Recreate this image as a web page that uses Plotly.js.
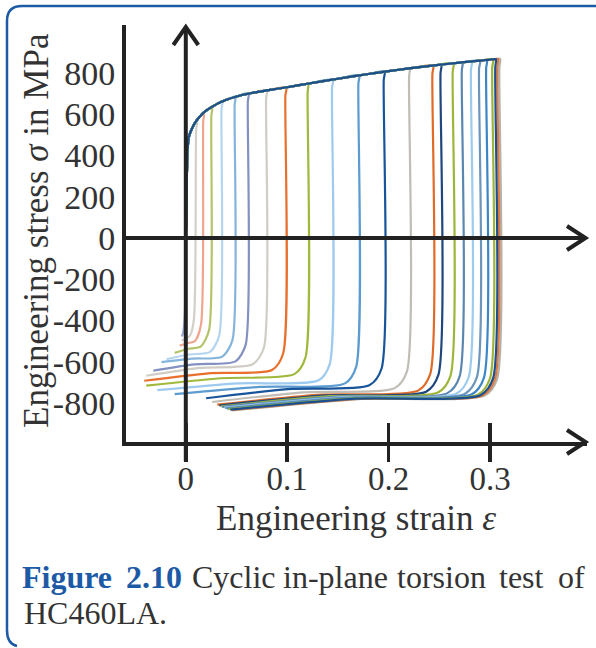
<!DOCTYPE html>
<html><head><meta charset="utf-8">
<script src="https://cdn.plot.ly/plotly-3.0.1.min.js"></script>
<style>html,body{margin:0;padding:0;background:#fff}#chart{width:596px;height:648px}</style>
</head><body><div id="chart"></div>
<script>
// ---- data ----
// shared monotonic (forward shear) envelope
const envStrain = [0, 0.0008, 0.0018, 0.003, 0.006, 0.01, 0.015, 0.02, 0.03, 0.04, 0.05, 0.065, 0.08, 0.1, 0.12, 0.15, 0.18, 0.2, 0.22, 0.245, 0.27, 0.29, 0.305, 0.312];
const envStress = [0, 250, 430, 490, 530, 565, 595, 617, 648, 670, 686, 703, 716, 731, 748, 772, 795, 809, 822, 837, 850, 860, 867, 871];
// per test: strain where shear was reversed and its stress
const peakStrain = [0.002, 0.011, 0.018, 0.026, 0.036, 0.049, 0.062, 0.080, 0.099, 0.121, 0.145, 0.171, 0.196, 0.221, 0.244, 0.252, 0.264, 0.273, 0.282, 0.290, 0.297, 0.303, 0.306, 0.308, 0.310];
const peakStress = [445, 562, 605, 633, 663, 687, 702, 716, 730, 749, 768, 789, 806, 822, 836, 840, 846, 851, 855, 859, 863, 866, 867, 868, 869];
// reverse branch: start of flow, middle and end
const kneeStrain = [-0.0025, 0.004, 0.009, 0.015, 0.024, 0.036, 0.049, 0.066, 0.085, 0.107, 0.131, 0.157, 0.181, 0.206, 0.229, 0.237, 0.249, 0.258, 0.267, 0.275, 0.282, 0.288, 0.291, 0.293, 0.295];
const kneeStress = [-455, -475, -500, -525, -552, -575, -598, -612, -640, -660, -690, -705, -714, -728, -740, -745, -748, -752, -754, -756, -758, -760, -761, -762, -763];
const midStress = [-470, -488, -510, -538, -565, -585, -613, -630, -656, -680, -705, -722, -733, -748, -760, -764, -767, -770, -772, -774, -776, -778, -779, -780, -781];
const endStrain = [-0.004, -0.004, -0.006, -0.011, -0.019, -0.024, -0.032, -0.039, -0.041, -0.039, -0.028, -0.011, 0.020, 0.026, 0.031, 0.033, 0.035, 0.036, 0.038, 0.039, 0.041, 0.042, 0.044, 0.045, 0.046];
const endStress = [-478, -497, -522, -557, -588, -602, -643, -668, -692, -716, -738, -757, -777, -795, -808, -812, -816, -819, -822, -825, -828, -830, -832, -834, -836];
const curveColors = ['#9aa6cf', '#d3d0c8', '#f0a58e', '#b5c46a', '#b3d5ef', '#84b4dc', '#8391c2', '#d0cdc4', '#e86f2c', '#a0b93c', '#9dcaee', '#5b9bcf', '#18549a', '#c0bdb5', '#e06a28', '#1f477e', '#9db63a', '#5a87b0', '#9ccbee', '#6b95bd', '#3d86c6', '#9bb43a', '#1c4f8e', '#e07a40', '#b5b1a8'];
const drawOrder = [24, 23, 0, 1, 2, 3, 4, 5, 6, 7, 8, 9, 10, 11, 12, 13, 14, 15, 16, 17, 18, 19, 20, 21, 22];
const xTickVals = [0, 0.1, 0.2, 0.3];
const xTickText = ['0', '0.1', '0.2', '0.3'];
const yTickVals = [-800, -600, -400, -200, 0, 200, 400, 600, 800];
const yTickText = ['-800', '-600', '-400', '-200', '0', '200', '400', '600', '800'];

// ---- geometry of the page ----
const L = 126, R = 587, T = 25, B = 442, W = R - L, H = B - T;
const X0 = 185.8, XS = 1014, Y0 = 238, YS = 0.20625;
const xRange = [(L - X0) / XS, (R - X0) / XS];
const yRange = [(Y0 - B) / YS, (Y0 - T) / YS];
const pxp = p => (p - L) / W;
const pyp = p => (B - p) / H;
const FONT = 'Liberation Serif, Times New Roman, serif';

const traces = drawOrder.map(i => {
  const pk = peakStrain[i];
  const xs = [], ys = [];
  envStrain.forEach((e, j) => { if (e < pk - 0.0006) { xs.push(e); ys.push(envStress[j]); } });
  xs.push(pk); ys.push(peakStress[i]);
  xs.push(pk - 0.0008); ys.push(peakStress[i] - 40);
  xs.push(pk - 0.003); ys.push(kneeStress[i] + 80);
  xs.push(kneeStrain[i]); ys.push(kneeStress[i]);
  xs.push((kneeStrain[i] + endStrain[i]) / 2); ys.push(midStress[i]);
  xs.push(endStrain[i]); ys.push(endStress[i]);
  return {type: 'scatter', mode: 'lines', x: xs, y: ys, hoverinfo: 'skip', showlegend: false,
    line: {color: curveColors[i], width: 2.2, shape: 'spline', smoothing: 0.7}};
});
traces.push({type: 'scatter', x: [], y: [], xaxis: 'x2', showlegend: false});

const blk = {color: '#222', width: 4};
const shapes = [
  {type: 'line', xref: 'paper', yref: 'paper', x0: pxp(L), x1: pxp(584), y0: pyp(Y0), y1: pyp(Y0), line: blk},
  {type: 'path', xref: 'paper', yref: 'paper', line: blk,
    path: `M${pxp(567)},${pyp(Y0 - 12)} L${pxp(585.5)},${pyp(Y0)} L${pxp(567)},${pyp(Y0 + 12)}`},
  {type: 'path', xref: 'paper', yref: 'paper', line: blk,
    path: `M${pxp(567)},${pyp(B - 12)} L${pxp(585.5)},${pyp(B)} L${pxp(567)},${pyp(B + 12)}`},
  {type: 'line', xref: 'paper', yref: 'paper', x0: pxp(X0), x1: pxp(X0), y0: pyp(461), y1: pyp(28), line: blk},
  {type: 'path', xref: 'paper', yref: 'paper', line: blk,
    path: `M${pxp(X0 - 12.5)},${pyp(45)} L${pxp(X0)},${pyp(27)} L${pxp(X0 + 12.5)},${pyp(45)}`},
  // blue frame
  {type: 'path', xref: 'paper', yref: 'paper', line: {color: '#1d5aa6', width: 2.5},
    path: `M${pxp(600)},${pyp(6)} L${pxp(22)},${pyp(6)} Q${pxp(7)},${pyp(6)} ${pxp(7)},${pyp(21)} L${pxp(7)},${pyp(630)} Q${pxp(7)},${pyp(644)} ${pxp(17)},${pyp(646)}`}
];

const cap = {family: FONT, size: 32, color: '#333'};
const captionWords = [
  {t: '<b>Figure</b>', x: 67, y: 577, c: '#1d5aa6'},
  {t: '<b>2.10</b>', x: 154, y: 577, c: '#1d5aa6'},
  {t: 'Cyclic', x: 234, y: 577},
  {t: 'in-plane', x: 335, y: 577},
  {t: 'torsion', x: 441, y: 577},
  {t: 'test', x: 521, y: 577},
  {t: 'of', x: 571, y: 577}
];
const annotations = captionWords.map(w => ({xref: 'paper', yref: 'paper', x: pxp(w.x), y: pyp(w.y),
  xanchor: 'center', yanchor: 'middle', showarrow: false, text: w.t,
  font: Object.assign({}, cap, w.c ? {color: w.c} : {})}));
annotations.push({xref: 'paper', yref: 'paper', x: pxp(22), y: pyp(613), xanchor: 'left', yanchor: 'middle',
  showarrow: false, text: 'HC460LA.', font: cap});
annotations.push({xref: 'paper', yref: 'paper', x: pxp(36), y: pyp(231), xanchor: 'center', yanchor: 'middle',
  textangle: -90, showarrow: false, text: 'Engineering stress <i>σ</i> in MPa',
  font: {family: FONT, size: 35, color: '#333'}});
annotations.push({xref: 'paper', yref: 'paper', x: pxp(356), y: pyp(518), xanchor: 'center', yanchor: 'middle',
  showarrow: false, text: 'Engineering strain <i>ε</i>',
  font: {family: FONT, size: 35, color: '#333'}});

const layout = {
  width: 596, height: 648,
  margin: {l: L, r: 596 - R, t: T, b: 648 - B, pad: 0},
  paper_bgcolor: '#fff', plot_bgcolor: '#fff',
  showlegend: false,
  xaxis: {range: xRange, tickvals: xTickVals, ticktext: xTickText, ticks: 'inside', ticklen: 19, tickwidth: 3.5,
    tickcolor: '#222', showline: true, linewidth: 4, linecolor: '#222', showgrid: false, zeroline: false,
    tickfont: {family: FONT, size: 33, color: '#333'}, ticklabelstandoff: 4},
  xaxis2: {range: xRange, overlaying: 'x', anchor: 'y', side: 'bottom', tickvals: xTickVals, ticks: 'outside',
    ticklen: 19, tickwidth: 3.5, tickcolor: '#222', showticklabels: false, showline: false, showgrid: false, zeroline: false},
  yaxis: {range: yRange, tickvals: yTickVals, ticktext: yTickText, ticks: '', showline: true, linewidth: 4,
    linecolor: '#222', showgrid: false, zeroline: false,
    tickfont: {family: FONT, size: 34, color: '#333'}, ticklabelstandoff: 0},
  shapes: shapes,
  annotations: annotations
};
Plotly.newPlot('chart', traces, layout, {staticPlot: true, displayModeBar: false});
</script>
</body></html>
